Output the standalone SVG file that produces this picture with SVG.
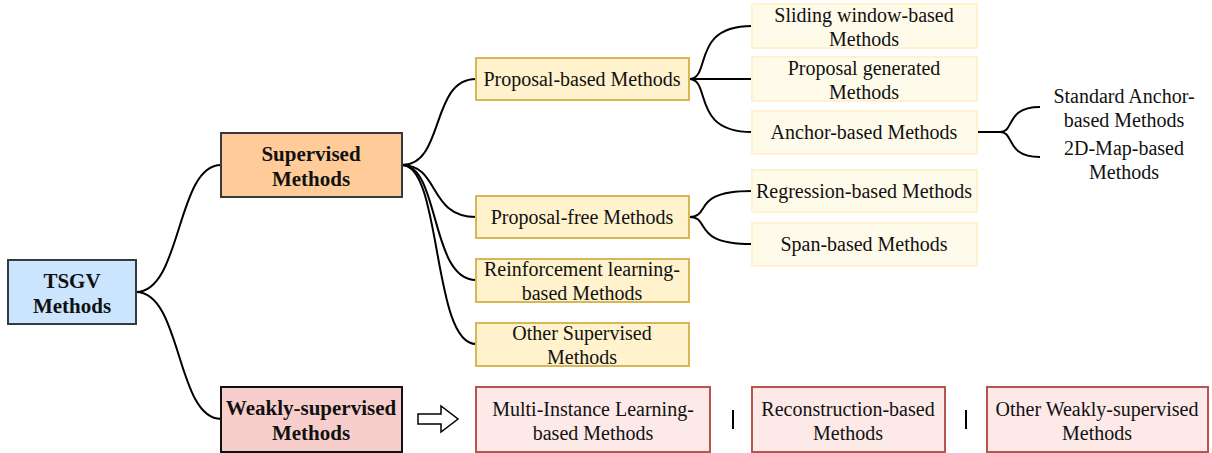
<svg xmlns="http://www.w3.org/2000/svg" width="1212" height="453" viewBox="0 0 1212 453">
  <style>
    text { font-family: "Liberation Serif", "Times New Roman", serif; font-size: 20px; fill: #111; text-anchor: middle; }
    .b { font-weight: bold; font-size: 21px; }
    .root { fill: #cce5ff; stroke: #36393d; stroke-width: 2; }
    .sup { fill: #ffcc99; stroke: #36393d; stroke-width: 2; }
    .weak { fill: #f8cecc; stroke: #111; stroke-width: 2; }
    .mid { fill: #fff2cc; stroke: #d6b656; stroke-width: 2; }
    .leaf { fill: #fffbea; stroke: #fff2cc; stroke-width: 2; }
    .wl { fill: #fce9e8; stroke: #b85450; stroke-width: 2; }
    .edge { fill: none; stroke: #000; stroke-width: 2; }
  </style>

  <g id="connectors">
    <!-- root to main branches -->
    <path class="edge" d="M136,292 C182,292 176,165 221,165"/>
    <path class="edge" d="M136,292 C182,292 176,419 221,419"/>
    <!-- supervised to its families -->
    <path class="edge" d="M402,165 C445,165 430,79 476,79"/>
    <path class="edge" d="M402,165 C440,165 428,217 476,217"/>
    <path class="edge" d="M402,165 C440,165 430,280 476,280"/>
    <path class="edge" d="M402,165 C442,165 432,344 476,344"/>
    <!-- proposal-based to sub-families -->
    <path class="edge" d="M689,79 C712,79 690,26 752,26"/>
    <path class="edge" d="M689,79 L752,79"/>
    <path class="edge" d="M689,79 C712,79 690,132 752,132"/>
    <!-- proposal-free to sub-families -->
    <path class="edge" d="M689,217 C712,217 690,191 752,191"/>
    <path class="edge" d="M689,217 C712,217 690,244 752,244"/>
    <!-- anchor-based to variants -->
    <path class="edge" d="M977,132 L1000,132 C1015,132 1005,107 1040,107"/>
    <path class="edge" d="M1000,132 C1015,132 1005,157 1040,157"/>
    <!-- hollow arrow for weakly-supervised -->
    <path d="M418,414 L441,414 L441,406 L458,419 L441,432 L441,424 L418,424 Z" fill="#fff" stroke="#000" stroke-width="1.5"/>
    <!-- separators -->
    <line x1="733" y1="410" x2="733" y2="429" stroke="#000" stroke-width="2"/>
    <line x1="966" y1="410" x2="966" y2="429" stroke="#000" stroke-width="2"/>
  </g>

  <g id="tsgv">
    <rect class="root" x="8" y="260" width="128" height="64"/>
    <text class="b" x="72" y="288">TSGV</text>
    <text class="b" x="72" y="313">Methods</text>
  </g>

  <g id="supervised">
    <rect class="sup" x="221" y="133" width="181" height="64"/>
    <text class="b" x="311" y="161">Supervised</text>
    <text class="b" x="311" y="186">Methods</text>
  </g>

  <g id="weakly">
    <rect class="weak" x="221" y="387" width="181" height="65"/>
    <text class="b" x="311" y="415">Weakly-supervised</text>
    <text class="b" x="311" y="440">Methods</text>
  </g>

  <g id="proposal-based">
    <rect class="mid" x="476" y="58" width="213" height="42"/>
    <text x="582" y="86">Proposal-based Methods</text>
  </g>

  <g id="proposal-free">
    <rect class="mid" x="476" y="196" width="213" height="42"/>
    <text x="582" y="224">Proposal-free Methods</text>
  </g>

  <g id="reinforcement">
    <rect class="mid" x="476" y="259" width="213" height="43"/>
    <text x="582" y="276">Reinforcement learning-</text>
    <text x="582" y="300">based Methods</text>
  </g>

  <g id="other-supervised">
    <rect class="mid" x="476" y="323" width="213" height="43"/>
    <text x="582" y="340">Other Supervised</text>
    <text x="582" y="364">Methods</text>
  </g>

  <g id="sliding-window">
    <rect class="leaf" x="752" y="4" width="225" height="44"/>
    <text x="864" y="22">Sliding window-based</text>
    <text x="864" y="46">Methods</text>
  </g>

  <g id="proposal-generated">
    <rect class="leaf" x="752" y="57" width="225" height="44"/>
    <text x="864" y="75">Proposal generated</text>
    <text x="864" y="99">Methods</text>
  </g>

  <g id="anchor-based">
    <rect class="leaf" x="752" y="111" width="225" height="43"/>
    <text x="864" y="139">Anchor-based Methods</text>
  </g>

  <g id="regression-based">
    <rect class="leaf" x="752" y="170" width="225" height="42"/>
    <text x="864" y="198">Regression-based Methods</text>
  </g>

  <g id="span-based">
    <rect class="leaf" x="752" y="223" width="225" height="43"/>
    <text x="864" y="251">Span-based Methods</text>
  </g>

  <g id="standard-anchor">
    <text x="1124" y="103">Standard Anchor-</text>
    <text x="1124" y="127">based Methods</text>
  </g>

  <g id="map-2d">
    <text x="1124" y="155">2D-Map-based</text>
    <text x="1124" y="179">Methods</text>
  </g>

  <g id="multi-instance">
    <rect class="wl" x="476" y="387" width="234" height="65"/>
    <text x="593" y="416">Multi-Instance Learning-</text>
    <text x="593" y="440">based Methods</text>
  </g>

  <g id="reconstruction">
    <rect class="wl" x="752" y="387" width="193" height="65"/>
    <text x="848" y="416">Reconstruction-based</text>
    <text x="848" y="440">Methods</text>
  </g>

  <g id="other-weakly">
    <rect class="wl" x="987" y="387" width="221" height="65"/>
    <text x="1097" y="416">Other Weakly-supervised</text>
    <text x="1097" y="440">Methods</text>
  </g>
</svg>
